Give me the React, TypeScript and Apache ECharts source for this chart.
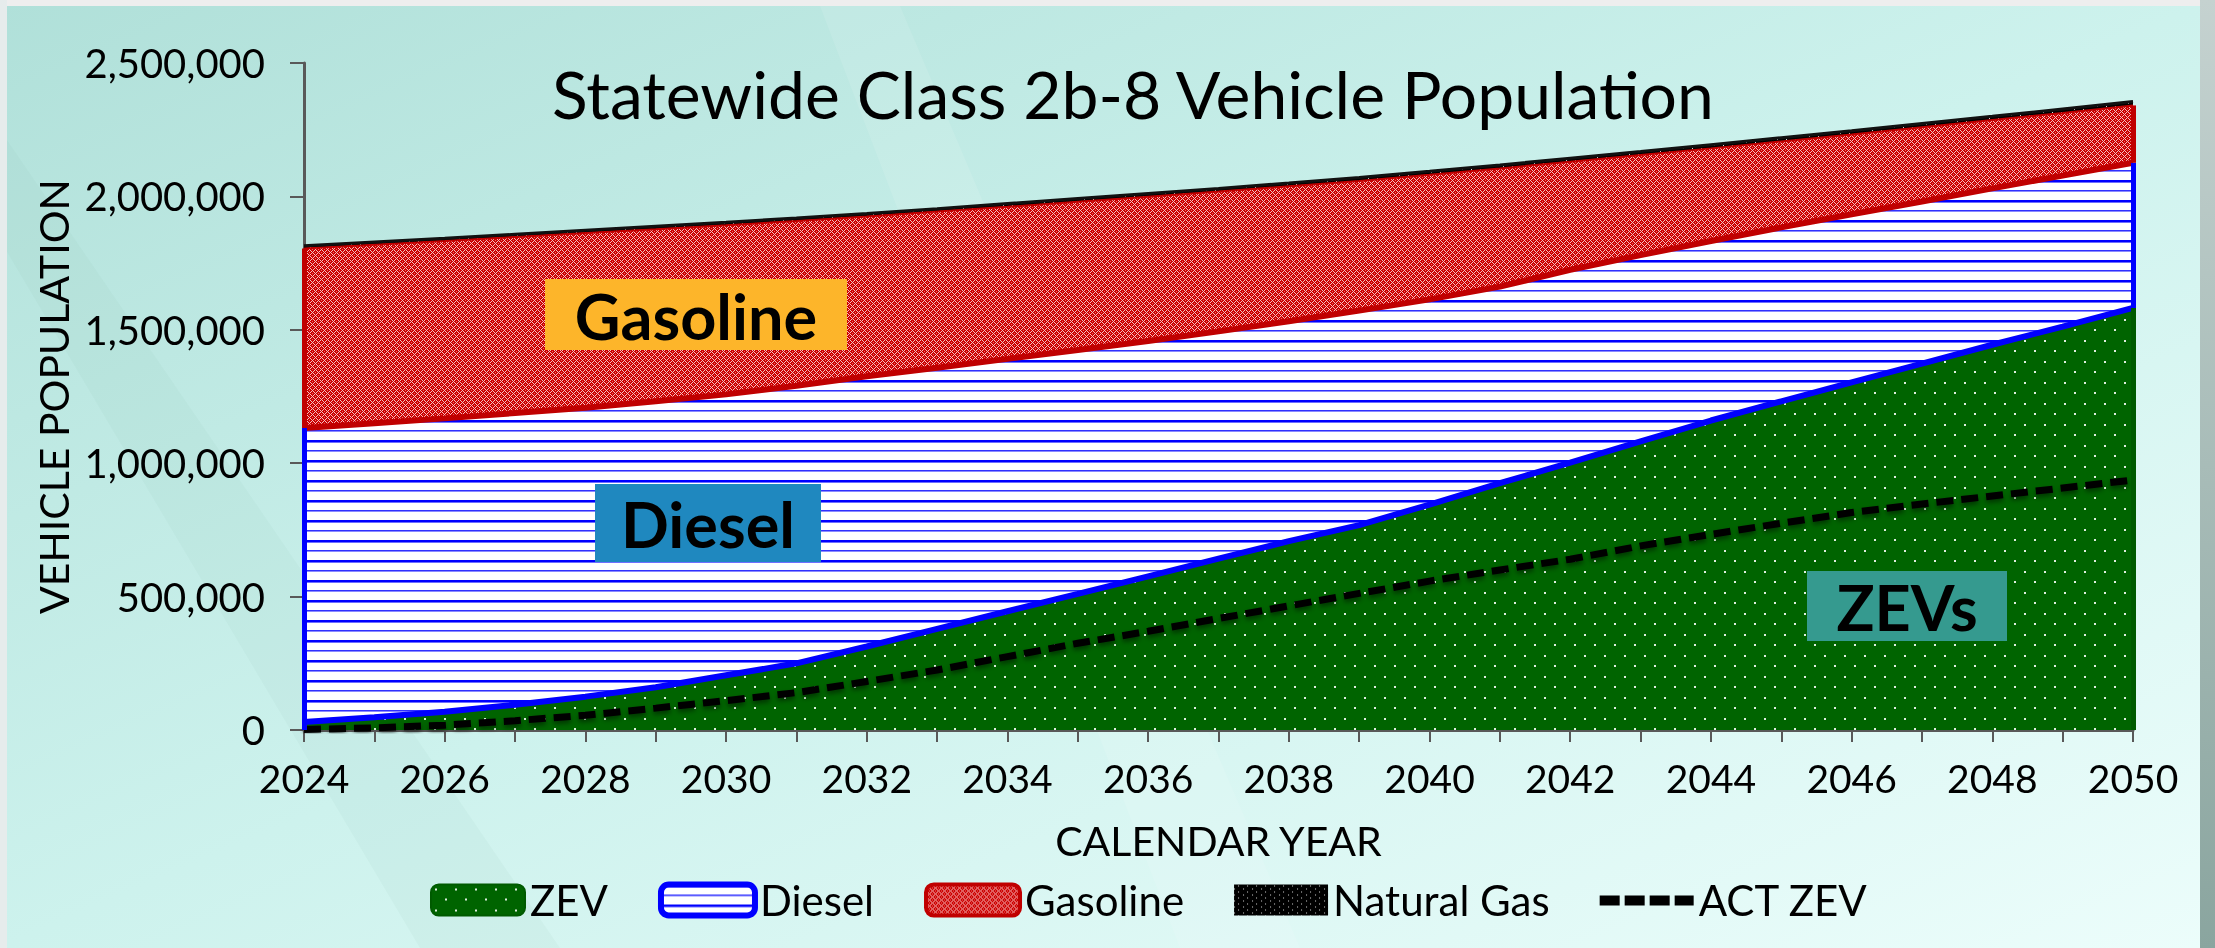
import { useEffect, useRef } from 'react';
import * as echarts from 'echarts';

const years = ['2024','2025','2026','2027','2028','2029','2030','2031','2032','2033','2034','2035','2036','2037','2038','2039','2040','2041','2042','2043','2044','2045','2046','2047','2048','2049','2050'];
const zev = [30000,48000,68000,95000,125000,160000,205000,250000,313000,379000,445000,510000,576000,642000,708000,768000,845000,925000,1002000,1082000,1160000,1232000,1303000,1373000,1444000,1512000,1582000];
const diesel = [1102000,1102000,1100000,1093000,1083000,1072000,1053000,1040000,1013000,979000,946000,914000,882000,852000,824000,804000,769000,737000,723000,698000,673000,652000,630000,608000,586000,566000,544000];
const gasoline = [673000,669000,665000,660000,655000,645000,634000,618000,599000,585000,570000,556000,541000,524000,506000,486000,467000,443000,405000,375000,347000,322000,299000,278000,256000,235000,215000];
const naturalGas = [10000,10000,10000,10000,10000,11000,11000,11000,11000,11000,12000,12000,12000,12000,12000,13000,13000,13000,13000,13000,14000,14000,14000,14000,14000,15000,15000];
const actZev = [2000,8000,18000,35000,55000,82000,110000,140000,182000,225000,275000,325000,370000,418000,465000,512000,558000,600000,640000,690000,733000,775000,815000,847000,877000,907000,937000];

const yMin = 0;
const yMax = 2500000;
const yStep = 500000;

const FONT = 'Lato, "Open Sans", sans-serif';

function tile(w: number, h: number, paint: (ctx: CanvasRenderingContext2D) => void): any {
  const c = document.createElement('canvas');
  c.width = w;
  c.height = h;
  const ctx = c.getContext('2d') as CanvasRenderingContext2D;
  paint(ctx);
  return { image: c.toDataURL(), repeat: 'repeat', imageWidth: w, imageHeight: h };
}

const zevTile = () => tile(20, 21, (ctx) => {
  ctx.fillStyle = '#006400';
  ctx.fillRect(0, 0, 20, 21);
  ctx.fillStyle = 'rgba(235,245,235,0.95)';
  ctx.fillRect(4, 4, 2, 2);
  ctx.fillRect(14, 14, 2, 2);
});

const dieselTile = () => tile(8, 20, (ctx) => {
  ctx.fillStyle = '#ffffff';
  ctx.fillRect(0, 0, 8, 20);
  ctx.fillStyle = '#0000ff';
  ctx.fillRect(0, 0, 8, 2);
  ctx.fillStyle = '#7070ff';
  ctx.fillRect(0, 2, 8, 1);
  ctx.fillStyle = '#3030ff';
  ctx.fillRect(0, 10, 8, 1);
  ctx.fillStyle = '#8a8aff';
  ctx.fillRect(0, 11, 8, 1);
});

const gasTile = () => tile(6, 6, (ctx) => {
  ctx.fillStyle = '#cc0000';
  ctx.fillRect(0, 0, 6, 6);
  ctx.fillStyle = 'rgba(255,240,240,0.8)';
  for (let x = 0; x < 6; x++) {
    for (let y = 0; y < 6; y++) {
      if ((x + y) % 6 === 0 || (x - y + 6) % 6 === 0) ctx.fillRect(x, y, 1, 1);
    }
  }
  ctx.fillStyle = 'rgba(255,220,220,0.5)';
  ctx.fillRect(3, 0, 1, 1);
  ctx.fillRect(0, 3, 1, 1);
});

const ngTile = () => tile(9, 6, (ctx) => {
  ctx.fillStyle = '#000000';
  ctx.fillRect(0, 0, 9, 6);
  ctx.fillStyle = 'rgba(255,255,255,0.85)';
  ctx.fillRect(4, 1, 1, 1);
  ctx.fillRect(0, 4, 1, 1);
});

export default function App() {
  const ref = useRef<HTMLDivElement>(null);

  useEffect(() => {
    const el = ref.current as HTMLDivElement;
    const chart = echarts.init(el, undefined, { renderer: 'svg' });
    const L = years.length - 1;
    const dTop0 = zev[0] + diesel[0];
    const dTopL = zev[L] + diesel[L];
    const gTop0 = dTop0 + gasoline[0];
    const gTopL = dTopL + gasoline[L];

    const areaBase = {
      type: 'line',
      stack: 'total',
      symbol: 'none',
      showSymbol: false,
      lineStyle: { width: 0 },
      emphasis: { disabled: true },
      silent: true,
      z: 2,
    };
    const edgeBase = {
      type: 'line',
      stack: 'edge',
      symbol: 'none',
      showSymbol: false,
      silent: true,
      emphasis: { disabled: true },
      z: 3,
    };

    const option: any = {
      animation: false,
      textStyle: { fontFamily: FONT },
      title: {
        text: 'Statewide Class 2b-8 Vehicle Population',
        left: 552,
        top: 60,
        padding: 0,
        textStyle: { fontSize: 66, fontWeight: 'normal', color: '#000', fontFamily: FONT },
      },
      grid: { left: 304, right: 82, top: 63, bottom: 218, containLabel: false },
      legend: {
        left: 425,
        top: 874,
        itemWidth: 94,
        itemHeight: 31,
        itemGap: 50,
        selectedMode: false,
        textStyle: { fontSize: 42, color: '#000', fontFamily: FONT },
        data: [
          { name: 'ZEV', icon: 'roundRect', itemStyle: { color: zevTile(), borderColor: '#005a00', borderWidth: 2 } },
          { name: 'Diesel', icon: 'roundRect', itemStyle: { color: dieselTile(), borderColor: '#0000ff', borderWidth: 6 } },
          { name: 'Gasoline', icon: 'roundRect', itemStyle: { color: gasTile(), borderColor: '#c00000', borderWidth: 4 } },
          { name: 'Natural Gas', icon: 'rect', itemStyle: { color: ngTile(), borderWidth: 0 } },
          {
            name: 'ACT ZEV',
            icon: 'path://M0,0L0.1,0L0.1,0.1Z M0,31L0.1,31L0.1,30.9Z M0,11h20v10h-20z M25,11h20v10h-20z M50,11h20v10h-20z M75,11h19v10h-19z',
            itemStyle: { color: '#000', borderWidth: 0 },
          },
        ],
      },
      xAxis: {
        type: 'category',
        data: years,
        boundaryGap: false,
        name: 'CALENDAR YEAR',
        nameLocation: 'middle',
        nameGap: 90,
        nameTextStyle: { fontSize: 41, color: '#000', fontFamily: FONT },
        axisLine: { show: true, lineStyle: { color: '#595959', width: 3 } },
        axisTick: { show: true, interval: 0, length: 12, lineStyle: { color: '#595959', width: 2 } },
        axisLabel: { interval: 1, fontSize: 39, color: '#000', margin: 28, fontFamily: FONT },
        splitLine: { show: false },
      },
      yAxis: {
        type: 'value',
        min: yMin,
        max: yMax,
        interval: yStep,
        name: 'VEHICLE POPULATION',
        nameLocation: 'middle',
        nameRotate: 90,
        nameGap: 224,
        nameTextStyle: { fontSize: 41, color: '#000', fontFamily: FONT },
        axisLine: { show: true, lineStyle: { color: '#595959', width: 3 } },
        axisTick: { show: true, length: 14, lineStyle: { color: '#595959', width: 2 } },
        axisLabel: {
          fontSize: 40,
          color: '#000',
          margin: 39,
          fontFamily: FONT,
          formatter: (v: number) => v.toLocaleString('en-US'),
        },
        splitLine: { show: false },
      },
      series: [
        { ...areaBase, name: 'ZEV', data: zev, areaStyle: { color: zevTile(), opacity: 1 }, itemStyle: { color: '#006400' } },
        { ...areaBase, name: 'Diesel', data: diesel, areaStyle: { color: dieselTile(), opacity: 1 }, itemStyle: { color: '#0000ff' } },
        { ...areaBase, name: 'Gasoline', data: gasoline, areaStyle: { color: gasTile(), opacity: 1 }, itemStyle: { color: '#c00000' } },
        { ...areaBase, name: 'Natural Gas', data: naturalGas, areaStyle: { color: ngTile(), opacity: 1 }, itemStyle: { color: '#000' } },
        {
          ...edgeBase,
          name: 'ZEV edge',
          data: zev,
          lineStyle: { color: '#0000ff', width: 6 },
          markLine: {
            silent: true,
            symbol: ['none', 'none'],
            label: { show: false },
            lineStyle: { color: '#0000ff', width: 5, type: 'solid' },
            data: [
              [{ coord: [years[0], 0] }, { coord: [years[0], dTop0] }],
              [{ coord: [years[L], zev[L]] }, { coord: [years[L], dTopL] }],
              [{ coord: [years[L], 0], lineStyle: { color: '#005a00' } }, { coord: [years[L], zev[L]] }],
            ],
          },
        },
        {
          ...edgeBase,
          name: 'Diesel edge',
          data: diesel,
          lineStyle: { color: '#c00000', width: 6 },
          markLine: {
            silent: true,
            symbol: ['none', 'none'],
            label: { show: false },
            lineStyle: { color: '#c00000', width: 5, type: 'solid' },
            data: [
              [{ coord: [years[0], dTop0] }, { coord: [years[0], gTop0] }],
              [{ coord: [years[L], dTopL] }, { coord: [years[L], gTopL] }],
            ],
          },
        },
        { ...edgeBase, name: 'Gasoline edge', data: gasoline, lineStyle: { color: '#c00000', width: 2 } },
        { ...edgeBase, name: 'Natural Gas edge', data: naturalGas, lineStyle: { color: '#111', width: 3 } },
        {
          type: 'line',
          name: 'ACT ZEV',
          data: actZev,
          symbol: 'none',
          showSymbol: false,
          silent: true,
          z: 4,
          itemStyle: { color: '#000' },
          lineStyle: {
            color: '#000',
            width: 7,
            type: [17, 8],
            shadowBlur: 5,
            shadowColor: 'rgba(0,0,0,0.45)',
            shadowOffsetY: 3,
          },
        },
      ],
      graphic: [
        {
          type: 'rect',
          z: -10,
          silent: true,
          shape: { x: 0, y: 0, width: 2215, height: 948 },
          style: {
            fill: new echarts.graphic.LinearGradient(0, 0, 1, 1, [
              { offset: 0, color: '#b0e0d9' },
              { offset: 0.5, color: '#cdf2ed' },
              { offset: 1, color: '#ecfdfb' },
            ]),
          },
        },
        {
          type: 'polygon',
          z: -9,
          silent: true,
          shape: { points: [[820, 6], [900, 6], [1300, 948], [1180, 948]] },
          style: { fill: 'rgba(255,255,255,0.10)' },
        },
        {
          type: 'polygon',
          z: -9,
          silent: true,
          shape: { points: [[0, 240], [0, 130], [560, 948], [420, 948]] },
          style: { fill: 'rgba(120,170,160,0.06)' },
        },
        {
          type: 'rect',
          z: -8,
          silent: true,
          shape: { x: 0, y: 0, width: 2215, height: 6 },
          style: { fill: '#eeeeee' },
        },
        {
          type: 'rect',
          z: -8,
          silent: true,
          shape: { x: 0, y: 0, width: 7, height: 948 },
          style: { fill: '#e6ecec' },
        },
        {
          type: 'rect',
          z: -8,
          silent: true,
          shape: { x: 2200, y: 0, width: 15, height: 948 },
          style: {
            fill: new echarts.graphic.LinearGradient(0, 0, 0, 1, [
              { offset: 0, color: '#c5d2d0' },
              { offset: 1, color: '#8aa59f' },
            ]),
          },
        },
        {
          type: 'group',
          z: 100,
          children: [
            { type: 'rect', z: 100, shape: { x: 545, y: 279, width: 302, height: 71 }, style: { fill: '#fdb52a' } },
            {
              type: 'text',
              z: 101,
              style: { text: 'Gasoline', x: 696, y: 315, align: 'center', verticalAlign: 'middle', fill: '#000', font: 'bold 63px Lato' },
            },
            { type: 'rect', z: 100, shape: { x: 595, y: 484, width: 226, height: 78 }, style: { fill: '#1f88bf' } },
            {
              type: 'text',
              z: 101,
              style: { text: 'Diesel', x: 708, y: 523, align: 'center', verticalAlign: 'middle', fill: '#000', font: 'bold 63px Lato' },
            },
            { type: 'rect', z: 100, shape: { x: 1807, y: 571, width: 200, height: 70 }, style: { fill: '#359a8f' } },
            {
              type: 'text',
              z: 101,
              style: { text: 'ZEVs', x: 1907, y: 606, align: 'center', verticalAlign: 'middle', fill: '#000', font: 'bold 63px Lato' },
            },
          ],
        },
      ],
    };

    chart.setOption(option);
    return () => chart.dispose();
  }, []);

  return <div ref={ref} style={{ position: 'fixed', left: 0, top: 0, width: 2215, height: 948 }} />;
}
